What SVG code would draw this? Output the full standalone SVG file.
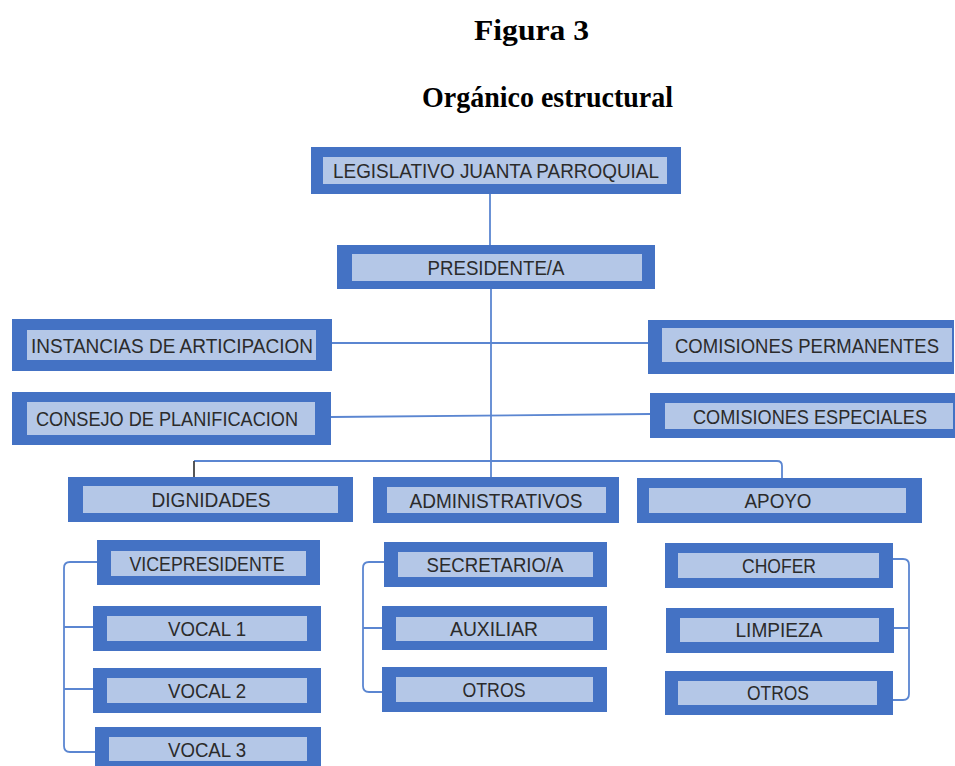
<svg xmlns="http://www.w3.org/2000/svg" width="955" height="766" viewBox="0 0 955 766">
<style>
.o{fill:#4472C4;}
.i{fill:#B4C7E7;}
.t{font-family:"Liberation Sans",Arial,sans-serif;font-size:20px;fill:#2b2b2b;text-anchor:middle;}
.h{font-family:"Liberation Serif","Times New Roman",serif;font-size:30px;font-weight:bold;fill:#000;}
.c{fill:none;stroke:#5B86D1;stroke-width:1.8;}
</style>
<rect width="955" height="766" fill="#fff"/>
<text class="h" x="474" y="40" textLength="115" lengthAdjust="spacingAndGlyphs">Figura 3</text>
<text class="h" x="422" y="107" textLength="251" lengthAdjust="spacingAndGlyphs">Orgánico estructural</text>
<g id="connectors">
<path class="c" d="M490,194 V245"/>
<path class="c" d="M491,289 V477"/>
<path class="c" d="M332,343 H648"/>
<path class="c" d="M331,417 L650,414"/>
<path class="c" d="M194,461 H777 Q782,461 782,466 V478"/>
<path d="M194,461 V477" fill="none" stroke="#444" stroke-width="1.8"/>
<path class="c" d="M97,562 H70 Q64,562 64,568 V746 Q64,752 70,752 H95 M64,627 H93 M64,689 H93"/>
<path class="c" d="M384,562 H369 Q363,562 363,568 V686 Q363,692 369,692 H382 M363,628 H382"/>
<path class="c" d="M893,559 H903 Q909,559 909,565 V694 Q909,700 903,700 H893 M894,628 H909"/>
</g>
<g id="legislativo"><rect class="o" x="311" y="147" width="370" height="47"/><rect class="i" x="323" y="157" width="344" height="27"/><text class="t" x="496" y="177.5" textLength="326" lengthAdjust="spacingAndGlyphs">LEGISLATIVO JUANTA PARROQUIAL</text></g>
<g id="presidente"><rect class="o" x="337" y="245" width="318" height="44"/><rect class="i" x="352" y="254" width="290" height="27"/><text class="t" x="496" y="275" textLength="137" lengthAdjust="spacingAndGlyphs">PRESIDENTE/A</text></g>
<g id="instancias"><rect class="o" x="12" y="319" width="320" height="52"/><rect class="i" x="27" y="330" width="289" height="30"/><text class="t" x="172" y="352.5" textLength="282" lengthAdjust="spacingAndGlyphs">INSTANCIAS DE ARTICIPACION</text></g>
<g id="consejo"><rect class="o" x="12" y="392" width="319" height="53"/><rect class="i" x="27" y="402" width="288" height="33"/><text class="t" x="167" y="425.5" textLength="262" lengthAdjust="spacingAndGlyphs">CONSEJO DE PLANIFICACION</text></g>
<g id="permanentes"><rect class="o" x="648" y="320" width="306" height="54"/><rect class="i" x="662" y="328" width="290" height="34"/><text class="t" x="807" y="352.5" textLength="264" lengthAdjust="spacingAndGlyphs">COMISIONES PERMANENTES</text></g>
<g id="especiales"><rect class="o" x="650" y="393" width="305" height="45"/><rect class="i" x="665" y="403" width="288" height="26"/><text class="t" x="810" y="423.5" textLength="234" lengthAdjust="spacingAndGlyphs">COMISIONES ESPECIALES</text></g>
<g id="dignidades"><rect class="o" x="68" y="477" width="285" height="45"/><rect class="i" x="83" y="486" width="255" height="27"/><text class="t" x="211" y="506.5" textLength="119" lengthAdjust="spacingAndGlyphs">DIGNIDADES</text></g>
<g id="administrativos"><rect class="o" x="373" y="477" width="246" height="46"/><rect class="i" x="387" y="487" width="219" height="26"/><text class="t" x="496" y="507.5" textLength="173" lengthAdjust="spacingAndGlyphs">ADMINISTRATIVOS</text></g>
<g id="apoyo"><rect class="o" x="637" y="478" width="285" height="45"/><rect class="i" x="649" y="488" width="257" height="25"/><text class="t" x="778" y="507.5" textLength="67" lengthAdjust="spacingAndGlyphs">APOYO</text></g>
<g id="vicepresidente"><rect class="o" x="97" y="540" width="223" height="45"/><rect class="i" x="111" y="551" width="195" height="25"/><text class="t" x="207" y="570.5" textLength="155" lengthAdjust="spacingAndGlyphs">VICEPRESIDENTE</text></g>
<g id="vocal1"><rect class="o" x="93" y="606" width="228" height="45"/><rect class="i" x="107" y="616" width="200" height="25"/><text class="t" x="207" y="635.5" textLength="78" lengthAdjust="spacingAndGlyphs">VOCAL 1</text></g>
<g id="vocal2"><rect class="o" x="93" y="668" width="228" height="45"/><rect class="i" x="107" y="678" width="200" height="25"/><text class="t" x="207" y="697.5" textLength="78" lengthAdjust="spacingAndGlyphs">VOCAL 2</text></g>
<g id="vocal3"><rect class="o" x="95" y="727" width="226" height="45"/><rect class="i" x="109" y="737" width="198" height="24"/><text class="t" x="207" y="756.5" textLength="78" lengthAdjust="spacingAndGlyphs">VOCAL 3</text></g>
<g id="secretario"><rect class="o" x="384" y="542" width="223" height="45"/><rect class="i" x="398" y="552" width="195" height="25"/><text class="t" x="495" y="571.5" textLength="137" lengthAdjust="spacingAndGlyphs">SECRETARIO/A</text></g>
<g id="auxiliar"><rect class="o" x="382" y="606" width="225" height="44"/><rect class="i" x="396" y="617" width="197" height="24"/><text class="t" x="494" y="636" textLength="88" lengthAdjust="spacingAndGlyphs">AUXILIAR</text></g>
<g id="otros-admin"><rect class="o" x="382" y="667" width="225" height="45"/><rect class="i" x="396" y="677" width="197" height="25"/><text class="t" x="494" y="696.5" textLength="63" lengthAdjust="spacingAndGlyphs">OTROS</text></g>
<g id="chofer"><rect class="o" x="665" y="543" width="228" height="45"/><rect class="i" x="678" y="553" width="201" height="25"/><text class="t" x="779" y="572.5" textLength="74" lengthAdjust="spacingAndGlyphs">CHOFER</text></g>
<g id="limpieza"><rect class="o" x="666" y="608" width="228" height="45"/><rect class="i" x="680" y="618" width="199" height="24"/><text class="t" x="779" y="637" textLength="87" lengthAdjust="spacingAndGlyphs">LIMPIEZA</text></g>
<g id="otros-apoyo"><rect class="o" x="665" y="671" width="228" height="44"/><rect class="i" x="678" y="681" width="199" height="24"/><text class="t" x="778" y="700" textLength="62" lengthAdjust="spacingAndGlyphs">OTROS</text></g>
</svg>
